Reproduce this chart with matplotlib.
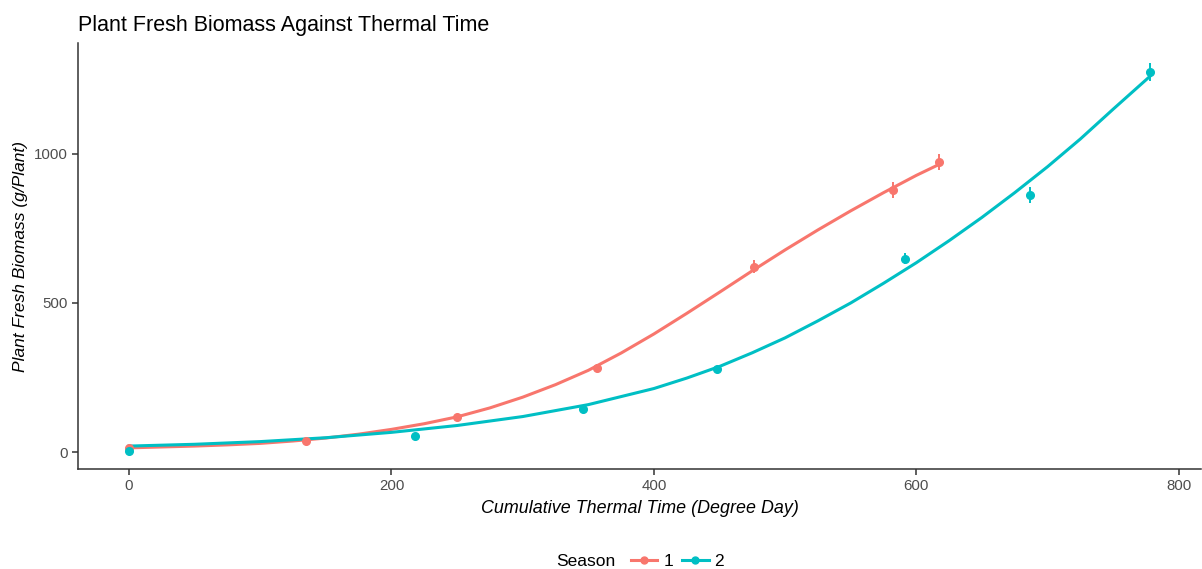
import matplotlib.pyplot as plt
from matplotlib.lines import Line2D

plt.rcParams['font.family'] = ['Liberation Sans', 'DejaVu Sans']

# measured means and error half-widths for each season
s1_tt = [0, 135, 250, 357, 476, 582, 617]
s1_biomass = [14, 37, 118, 282, 622, 879, 972]
s1_err = [3, 5, 8, 12, 22, 28, 27]

s2_tt = [0, 218, 346, 448, 591, 687, 778]
s2_biomass = [5, 54, 145, 277, 649, 862, 1274]
s2_err = [2, 4, 6, 5, 17, 27, 30]

# fitted growth curves
s1_fit_tt = [0, 25, 50, 75, 100, 125, 150, 175, 200, 225, 250, 275, 300, 325,
             350, 375, 400, 425, 450, 475, 500, 525, 550, 575, 600, 617]
s1_fit = [14, 17, 20, 24, 29, 37, 47, 60, 76, 95, 118, 148, 184, 226,
          274, 332, 396, 465, 536, 608, 678, 745, 809, 870, 928, 964]

s2_fit_tt = [0, 50, 100, 150, 200, 250, 300, 350, 400, 425, 450, 475, 500,
             525, 550, 575, 600, 625, 650, 675, 700, 725, 750, 778]
s2_fit = [20, 26, 35, 48, 66, 89, 119, 159, 213, 248, 287, 333, 383,
          440, 500, 566, 635, 709, 787, 870, 957, 1050, 1150, 1260]

seasons = ['1', '2']
colors = ['#F8766D', '#00BFC4']

fig = plt.figure(figsize=(12.02, 5.69), dpi=100)
ax = fig.add_axes([0.0649, 0.1757, 0.9343, 0.7487])

for tt, bm, err, ftt, fit, c in [(s1_tt, s1_biomass, s1_err, s1_fit_tt, s1_fit, colors[0]),
                                 (s2_tt, s2_biomass, s2_err, s2_fit_tt, s2_fit, colors[1])]:
    ax.plot(ftt, fit, color=c, lw=2.2, solid_joinstyle='round', zorder=2)
    ax.errorbar(tt, bm, yerr=err, fmt='o', color=c, ms=5.5, elinewidth=1.4,
                capsize=0, zorder=3)

ax.set_xlim(-38.9, 817)
ax.set_ylim(-57, 1372)
ax.set_xticks([0, 200, 400, 600, 800])
ax.set_yticks([0, 500, 1000])

for side in ['top', 'right']:
    ax.spines[side].set_visible(False)
for side in ['left', 'bottom']:
    ax.spines[side].set_color('#333333')
    ax.spines[side].set_linewidth(1.1)
ax.tick_params(colors='#333333', labelcolor='#4D4D4D', labelsize=10.8,
               length=4, width=1.1)

ax.set_xlabel('Cumulative Thermal Time (Degree Day)', fontsize=12.9,
              style='italic', labelpad=5)
ax.set_ylabel('Plant Fresh Biomass (g/Plant)', fontsize=12.5,
              style='italic', labelpad=4)
ax.set_title('Plant Fresh Biomass Against Thermal Time', loc='left',
             fontsize=15.5, pad=9)

# legend along the bottom, title to the left of the keys
fig.text(0.4625, 0.0, 'Season', fontsize=12.5, ha='left', va='bottom')
handles = [Line2D([0], [0], color=c, lw=2.2, marker='o', ms=5) for c in colors]
fig.legend(handles, seasons, loc='lower left', bbox_to_anchor=(0.512, -0.027),
           ncol=2, frameon=False, fontsize=12.5, handlelength=1.5,
           handletextpad=0.35, columnspacing=0.55)

fig.savefig('out.png', dpi=100)
